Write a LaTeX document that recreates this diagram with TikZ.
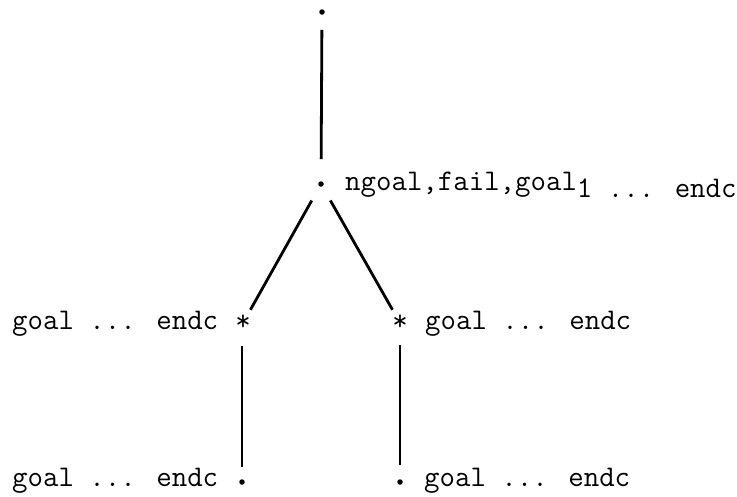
\documentclass[tikz,border=0pt]{standalone}
\usepackage{fontspec}
\begin{document}
\begin{tikzpicture}[x=1pt,y=-1pt,
  dotn/.style={circle,fill=black,inner sep=0pt,minimum size=5.5pt},
  starn/.style={inner sep=0pt,font=\ttfamily\fontsize{30}{36}\selectfont},
  lbl/.style={inner sep=0pt,anchor=base west,font=\ttfamily\fontsize{30}{36}\selectfont},
  edge/.style={line width=2.8pt}]
\useasboundingbox (0,0) rectangle (737,496);
\node[dotn] (top) at (322,12) {};
\node[dotn] (mid) at (321,184) {};
\node[starn] (L) at (243,323) {*};
\node[starn] (R) at (400,323) {*};
\node[dotn] (LB) at (242,482) {};
\node[dotn] (RB) at (400,482) {};
\node[lbl] (midlbl) at (345,190) {ngoal,fail,goal\raisebox{-7pt}{1 ... endc}};
\node[lbl] (Llbl) at (12,329) {goal ... endc};
\node[lbl] (Rlbl) at (425,329) {goal ... endc};
\node[lbl] (LBlbl) at (12,486) {goal ... endc};
\node[lbl] (RBlbl) at (424,486) {goal ... endc};
\draw[edge,shorten <=15pt,shorten >=22pt] (top) -- (mid);
\draw[edge,shorten <=16pt,shorten >=6pt] (mid) -- (L);
\draw[edge,shorten <=16pt,shorten >=6pt] (mid) -- (R);
\draw[edge] ([shift={(-1,23)}]L.center) coordinate (la) -- ([shift={(0,-15)}]LB.center) coordinate (lb);
\draw[edge] ([shift={(0,22)}]R.center) coordinate (ra) -- ([shift={(0,-17)}]RB.center) coordinate (rb);
\end{tikzpicture}
\end{document}
